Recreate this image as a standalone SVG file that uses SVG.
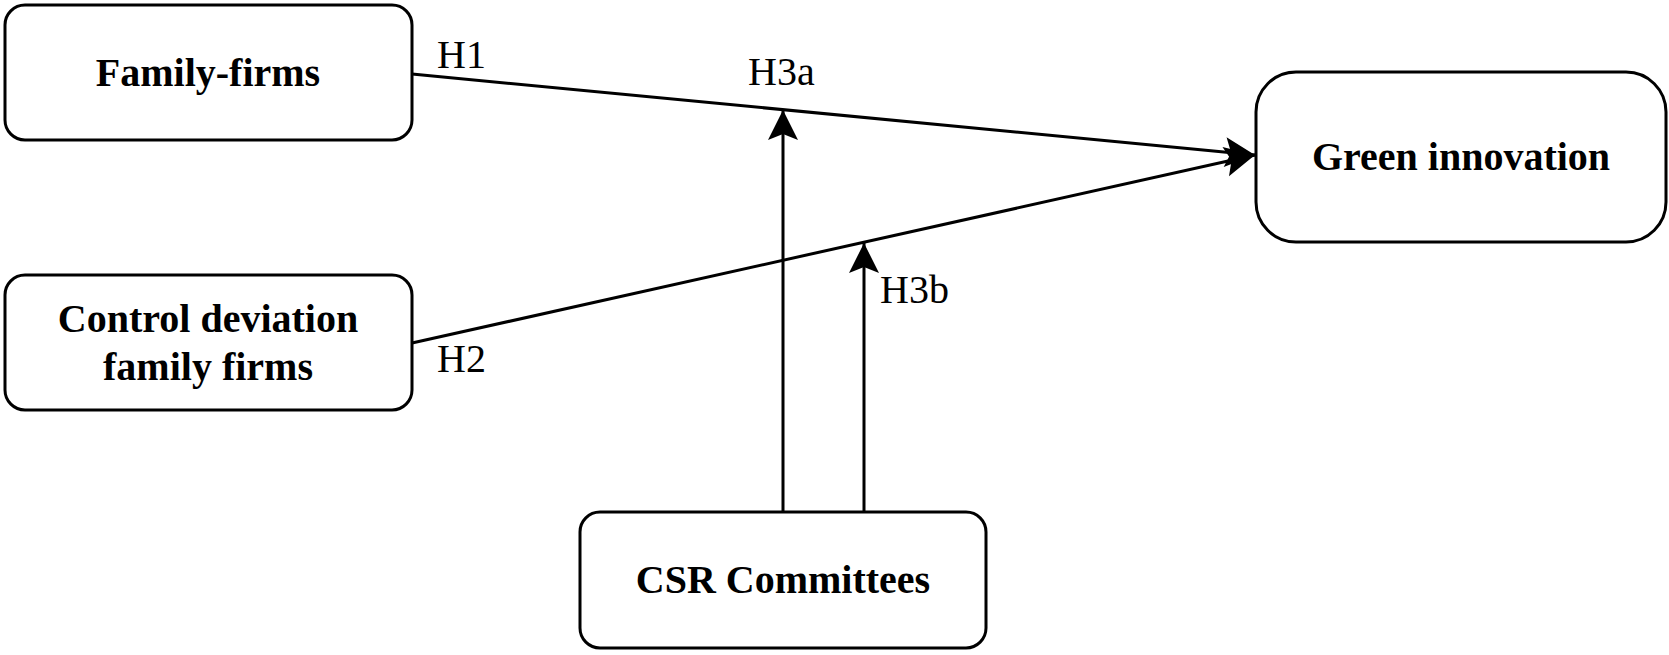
<svg xmlns="http://www.w3.org/2000/svg" width="1669" height="655" viewBox="0 0 1669 655">
  <style>
    .box { fill: #ffffff; stroke: #000000; stroke-width: 3; }
    .title { font-family: "Liberation Serif", "Times New Roman", serif; font-weight: bold; font-size: 40px; fill: #000000; text-anchor: middle; }
    .lab { font-family: "Liberation Serif", "Times New Roman", serif; font-size: 40px; fill: #000000; }
    .conn { fill: none; stroke: #000000; stroke-width: 3; marker-end: url(#arrow); }
  </style>
  <defs>
    <marker id="arrow" viewBox="-31 -16 32 32" refX="0" refY="0" markerWidth="32" markerHeight="32" markerUnits="userSpaceOnUse" orient="auto">
      <path d="M0,0 L-30,-15 L-24,0 L-30,15 Z" fill="#000000"/>
    </marker>
  </defs>
  <rect width="1669" height="655" fill="#ffffff"/>

  <g id="connectors">
    <line class="conn" x1="412" y1="74" x2="1255" y2="155"/>
    <line class="conn" x1="412" y1="343" x2="1255" y2="155"/>
    <line class="conn" x1="783" y1="512" x2="783" y2="110"/>
    <line class="conn" x1="864" y1="512" x2="864" y2="243"/>
    <text class="lab" x="437" y="68">H1</text>
    <text class="lab" x="437" y="372">H2</text>
    <text class="lab" x="748" y="85">H3a</text>
    <text class="lab" x="880" y="303">H3b</text>
  </g>

  <g id="family-firms">
    <rect class="box" x="5" y="5" width="407" height="135" rx="20" ry="20"/>
    <text class="title" x="208" y="86">Family-firms</text>
  </g>

  <g id="control-deviation">
    <rect class="box" x="5" y="275" width="407" height="135" rx="20" ry="20"/>
    <text class="title" x="208" y="332">Control deviation</text>
    <text class="title" x="208" y="380">family firms</text>
  </g>

  <g id="green-innovation">
    <rect class="box" x="1256" y="72" width="410" height="170" rx="40" ry="40"/>
    <text class="title" x="1461" y="170">Green innovation</text>
  </g>

  <g id="csr-committees">
    <rect class="box" x="580" y="512" width="406" height="136" rx="20" ry="20"/>
    <text class="title" x="783" y="593">CSR Committees</text>
  </g>
</svg>
